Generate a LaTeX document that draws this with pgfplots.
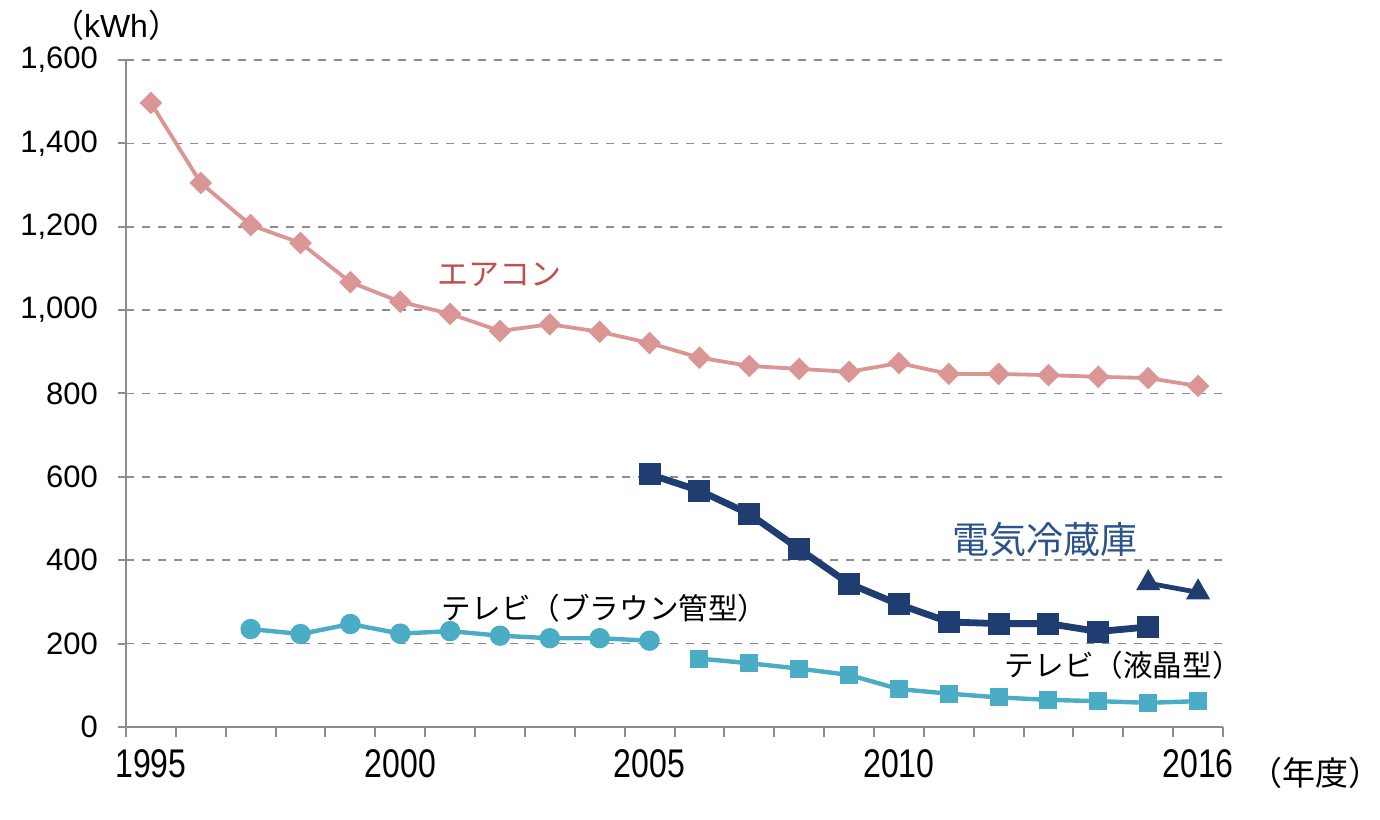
\documentclass[border=0pt]{standalone}
\usepackage{fontspec}
\setmainfont{Liberation Sans}
\newfontfamily\cjk{Noto Sans CJK JP}
\usepackage{graphicx}
\usepackage{pgfplots}
\pgfplotsset{compat=1.18}
\definecolor{acon}{RGB}{217,150,148}
\definecolor{acontext}{RGB}{192,80,77}
\definecolor{fridge}{RGB}{31,61,112}
\definecolor{fridgetext}{RGB}{44,82,140}
\definecolor{tv}{RGB}{75,172,198}
\definecolor{gridc}{RGB}{140,140,140}
\newcommand\nx[1]{\scalebox{0.8}[1]{#1}}
\begin{document}
\begin{tikzpicture}
\path[use as bounding box] (0,0) rectangle (690pt,409.5pt);
\begin{axis}[
  at={(63pt,46pt)}, anchor=south west,
  scale only axis, width=548.5pt, height=333.5pt,
  xmin=1994.5, xmax=2016.5, ymin=0, ymax=1600,
  axis x line*=bottom, axis y line*=left,
  axis line style={gridc, line width=1pt},
  clip=false,
  xtick={1995,2000,2005,2010,2016},
  xticklabels={\nx{1995},\nx{2000},\nx{2005},\nx{2010},\nx{2016}},
  minor xtick={1994.5,1995.5,1996.5,1997.5,1998.5,1999.5,2000.5,2001.5,2002.5,2003.5,2004.5,2005.5,2006.5,2007.5,2008.5,2009.5,2010.5,2011.5,2012.5,2013.5,2014.5,2015.5,2016.5},
  major x tick style={draw=none},
  minor x tick style={gridc, line width=1pt},
  minor tick length=5pt,
  ytick={0,200,400,600,800,1000,1200,1400,1600},
  major tick length=4pt,
  y tick style={gridc, line width=1pt},
  tick align=outside,
  ymajorgrids,
  major grid style={gridc, line width=0.8pt, dash pattern=on 4pt off 4pt},
  yticklabel style={font=\fontsize{15.5}{18}\selectfont, xshift=-6.5pt},
  xticklabel style={font=\fontsize{20}{24}\selectfont, yshift=-4pt},
  /pgf/number format/1000 sep={,},
  /pgf/number format/assume math mode=true,
]
% Air conditioner
\addplot[acon, line width=1.9pt, mark=square*, mark size=3.5pt, mark options={rotate=45, solid, line width=1pt}] coordinates {
(1995,1497) (1996,1305) (1997,1204) (1998,1161) (1999,1067) (2000,1020) (2001,991) (2002,950) (2003,966) (2004,948) (2005,921) (2006,886) (2007,866) (2008,859) (2009,852) (2010,873) (2011,847) (2012,847) (2013,844) (2014,840) (2015,837) (2016,818)};
% Refrigerator
\addplot[fridge, line width=3.4pt, mark=square*, mark size=5pt, mark options={solid, line width=1pt}] coordinates {
(2005,606) (2006,567) (2007,511) (2008,427) (2009,344) (2010,294) (2011,252) (2012,248) (2013,248) (2014,229) (2015,240)};
\addplot[fridge, line width=2.4pt, mark=triangle*, mark size=6pt, mark options={solid, line width=1pt}] coordinates {
(2015,345) (2016,323)};
% CRT TV
\addplot[tv, line width=2.2pt, mark=*, mark size=4.6pt, mark options={solid, line width=1pt}] coordinates {
(1997,235) (1998,223) (1999,247) (2000,224) (2001,230) (2002,219) (2003,213) (2004,213) (2005,207)};
% LCD TV
\addplot[tv, line width=2.2pt, mark=square*, mark size=4pt, mark options={solid, line width=1pt}] coordinates {
(2006,164) (2007,153) (2008,140) (2009,125) (2010,91) (2011,80) (2012,71) (2013,65) (2014,62) (2015,58) (2016,62)};
\node[inner sep=0pt, text=acontext, font=\cjk\fontsize{15.5}{18}\selectfont] at (axis cs:2002.0,1084) {エアコン};
\node[inner sep=0pt, text=fridgetext, font=\cjk\fontsize{18.5}{22}\selectfont] at (axis cs:2012.93,449) {電気冷蔵庫};
\node[inner sep=0pt, font=\cjk\fontsize{14.8}{18}\selectfont] at (axis cs:2004.1,285) {テレビ（ブラウン管型）};
\node[inner sep=0pt, font=\cjk\fontsize{14.8}{18}\selectfont] at (axis cs:2014.5,149) {テレビ（液晶型）};
\node[inner sep=0pt, font=\fontsize{16}{19}\selectfont] at (axis cs:1994.3,1684) {{\cjk （}kWh{\cjk ）}};
\node[inner sep=0pt, font=\cjk\fontsize{16.5}{19}\selectfont] at (axis cs:2018.35,-110) {（年度）};
\end{axis}
\end{tikzpicture}
\end{document}
